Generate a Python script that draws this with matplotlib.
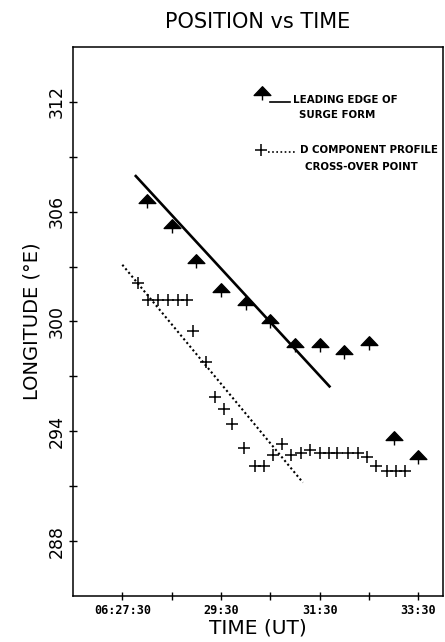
import matplotlib
matplotlib.use("Agg")
import matplotlib.pyplot as plt
from matplotlib.path import Path
from matplotlib import font_manager

# Times are minutes after 06:00 UT, longitudes in degrees east
edge_time = [28.0, 28.5, 29.0, 29.5, 30.0, 30.5, 31.0, 31.5, 32.0, 32.5, 33.0, 33.5]
edge_lon = [306.5, 305.1, 303.2, 301.6, 300.9, 299.9, 298.6, 298.6, 298.2, 298.7, 293.5, 292.5]

cross_time = [27.82, 28.02, 28.22, 28.42, 28.63, 28.81, 28.93, 29.19, 29.37, 29.56,
              29.72, 29.96, 30.18, 30.37, 30.55, 30.73, 30.91, 31.12, 31.30, 31.50,
              31.68, 31.86, 32.07, 32.27, 32.45, 32.65, 32.86, 33.04, 33.22]
cross_lon = [302.1, 301.2, 301.2, 301.2, 301.2, 301.2, 299.5, 297.8, 295.9, 295.2,
             294.4, 293.1, 292.1, 292.1, 292.7, 293.3, 292.7, 292.8, 293.0, 292.8,
             292.8, 292.8, 292.8, 292.8, 292.6, 292.1, 291.85, 291.85, 291.85]

# Fitted lines (end points)
edge_fit_time = [27.755, 31.717]
edge_fit_lon = [308.0, 296.4]
cross_fit_time = [27.5, 31.16]
cross_fit_lon = [303.1, 291.2]

xtick_pos = [27.5, 28.5, 29.5, 30.5, 31.5, 32.5, 33.5]
xtick_labels = ["06:27:30", "", "29:30", "", "31:30", "", "33:30"]
ytick_pos = [288, 291, 294, 297, 300, 303, 306, 309, 312]
ytick_labels = ["288", "", "294", "", "300", "", "306", "", "312"]

# Arrow-head marker: filled triangle with a short stem below
arrow = Path(
    [(-1.0, 0.0), (1.0, 0.0), (0.0, 1.05), (-1.0, 0.0), (0.0, 0.0), (0.0, -0.6)],
    [Path.MOVETO, Path.LINETO, Path.LINETO, Path.CLOSEPOLY, Path.MOVETO, Path.LINETO],
)

fig = plt.figure(figsize=(4.45, 6.42), dpi=100)
ax = fig.add_axes([0.164, 0.0717, 0.8315, 0.8551])

ax.plot(edge_fit_time, edge_fit_lon, color="black", lw=1.9, solid_capstyle="butt")
ax.plot(cross_fit_time, cross_fit_lon, color="black", lw=1.5, linestyle=(0, (1, 1.3)))
ax.plot(edge_time, edge_lon, linestyle="none", marker=arrow, markersize=12.6,
        markerfacecolor="black", markeredgecolor="black", markeredgewidth=1.0)
ax.plot(cross_time, cross_lon, linestyle="none", marker="+", markersize=9,
        markeredgecolor="black", markeredgewidth=1.1)

ax.set_xlim(26.5, 34.0)
ax.set_ylim(285, 315)
ax.set_xticks(xtick_pos)
ax.set_xticklabels(xtick_labels, fontfamily="DejaVu Sans Mono", fontweight="bold", fontsize=8.5)
ax.set_yticks(ytick_pos)
ax.set_yticklabels(ytick_labels, rotation=90, va="center", fontsize=12.5)
ax.tick_params(direction="inout", length=6, width=1.0, pad=3)
ax.tick_params(axis="y", pad=2)
for s in ax.spines.values():
    s.set_linewidth(1.1)

ax.set_ylabel("LONGITUDE (°E)", fontsize=14, labelpad=5)
ax.set_xlabel("TIME (UT)", fontsize=14.5, labelpad=1)
ax.set_title("POSITION vs TIME", fontsize=15, pad=14)

# Key, in a condensed face when one is available
names = {f.name for f in font_manager.fontManager.ttflist}
narrow = [n for n in ("Liberation Sans Narrow", "DejaVu Sans Condensed") if n in names]
key_font = dict(fontfamily=narrow + ["DejaVu Sans"], fontstretch="condensed",
                fontweight="bold", fontsize=9.5 if narrow else 8.2,
                va="center", ha="left", transform=ax.transAxes)
ax.plot([0.511], [0.912], transform=ax.transAxes, linestyle="none", marker=arrow,
        markersize=12.6, markerfacecolor="black", markeredgecolor="black",
        markeredgewidth=1.0, clip_on=False)
ax.plot([0.532, 0.586], [0.900, 0.900], transform=ax.transAxes, color="black", lw=1.2)
ax.text(0.595, 0.904, "LEADING EDGE OF", **key_font)
ax.text(0.611, 0.877, "SURGE FORM", **key_font)
ax.plot([0.508], [0.8124], transform=ax.transAxes, linestyle="none", marker="+",
        markersize=9, markeredgecolor="black", markeredgewidth=1.1)
ax.plot([0.527, 0.605], [0.809, 0.809], transform=ax.transAxes, color="black", lw=1.2,
        linestyle=(0, (1, 1.5)))
ax.text(0.614, 0.8124, "D COMPONENT PROFILE", **key_font)
ax.text(0.627, 0.7814, "CROSS-OVER POINT", **key_font)

fig.savefig("out.png", dpi=100)
